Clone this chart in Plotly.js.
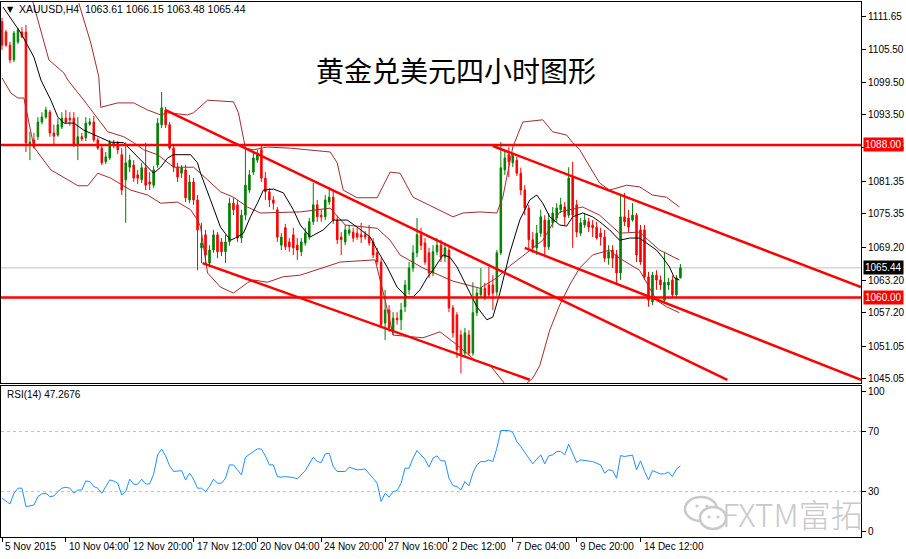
<!DOCTYPE html>
<html>
<head>
<meta charset="utf-8">
<script src="https://cdn.plot.ly/plotly-3.0.1.min.js"></script>
<style>html,body{margin:0;padding:0;background:#fff;}#chart{width:906px;height:559px;}</style>
</head>
<body>
<div id="chart"></div>
<script>
// ---- Candles (XAUUSD H4), one per bar ----
const open = [
1110.6,1108.7,1106.3,1103.6,1106.9,1108.7,1108.7,1088.2,1088.9,1089.5,
1092.2,1093.1,1094.0,1090.2,1089.8,1091.3,1092.9,1092.9,1092.9,1088.0,
1089.5,1089.3,1091.8,1092.2,1088.9,1087.4,1084.9,1085.6,1088.4,1088.4,
1086.2,1081.6,1083.9,1084.3,1082.5,1081.6,1083.8,1081.2,1080.6,1084.3,
1091.7,1094.4,1091.7,1087.4,1083.9,1082.8,1083.4,1077.9,1081.2,1077.9,
1069.1,1071.5,1066.3,1068.7,1071.5,1070.2,1068.4,1070.2,1077.3,1077.0,
1070.9,1075.1,1079.7,1083.0,1085.2,1087.1,1081.9,1079.4,1077.9,1076.1,
1069.6,1072.8,1070.2,1071.5,1069.6,1068.4,1070.0,1071.1,1073.9,1077.0,
1075.1,1074.8,1077.5,1078.4,1074.2,1071.1,1070.2,1071.8,1072.0,1071.8,
1071.5,1071.5,1071.1,1070.2,1068.2,1066.5,1055.3,1057.7,1054.0,1056.2,
1055.9,1058.3,1061.4,1065.4,1068.2,1071.5,1070.0,1068.2,1064.5,1068.4,
1069.6,1067.4,1068.7,1058.1,1056.8,1053.1,1049.8,1053.1,1049.8,1057.2,
1060.5,1061.7,1062.3,1062.3,1061.0,1068.2,1083.4,1086.2,1084.7,1085.2,
1082.8,1079.7,1076.4,1070.6,1069.1,1071.8,1074.2,1069.3,1073.7,1074.6,
1076.1,1076.6,1075.1,1082.1,1077.0,1071.8,1073.3,1073.9,1073.3,1072.9,
1071.8,1071.1,1067.2,1068.7,1067.8,1064.5,1074.8,1074.6,1074.2,1075.1,
1072.4,1072.4,1063.8,1059.2,1064.1,1063.2,1059.5,1062.3,1063.2,1060.5,
1063.61];
const high = [
1111.3,1109.1,1106.9,1108.9,1109.5,1109.6,1110.0,1090.4,1090.2,1093.1,
1094.0,1095.0,1094.4,1091.7,1092.9,1094.0,1094.4,1094.0,1094.0,1093.1,
1090.2,1093.1,1092.9,1093.3,1089.3,1088.0,1086.7,1088.9,1088.9,1088.7,
1087.4,1088.5,1086.2,1085.2,1083.4,1084.7,1088.4,1083.0,1084.1,1092.9,
1097.7,1095.0,1092.2,1088.0,1084.7,1084.3,1084.3,1082.5,1081.9,1078.8,
1073.7,1072.4,1069.6,1072.4,1072.0,1070.9,1071.5,1078.3,1078.3,1077.9,
1076.1,1087.6,1083.4,1086.7,1087.1,1087.8,1083.0,1080.1,1078.6,1076.6,
1071.8,1073.5,1070.9,1072.8,1070.9,1070.9,1072.8,1074.6,1081.0,1077.9,
1076.1,1078.8,1080.3,1079.7,1075.0,1072.0,1073.3,1073.3,1072.8,1072.8,
1073.7,1072.2,1073.3,1070.9,1069.1,1067.2,1061.4,1058.6,1057.3,1057.3,
1059.0,1063.2,1066.5,1069.6,1074.6,1072.8,1070.9,1069.1,1069.6,1070.9,
1070.6,1070.0,1069.6,1058.6,1057.3,1054.0,1054.4,1054.0,1062.8,1061.7,
1065.4,1062.7,1065.6,1064.1,1068.7,1088.5,1087.1,1087.6,1086.5,1085.8,
1083.8,1080.6,1077.0,1072.0,1073.3,1076.1,1075.1,1075.5,1076.6,1077.3,
1078.3,1077.5,1083.9,1084.9,1077.9,1074.6,1075.5,1074.6,1074.2,1073.9,
1072.8,1072.4,1069.6,1069.6,1068.7,1078.8,1079.2,1076.1,1077.3,1075.5,
1073.3,1073.3,1064.7,1064.7,1065.0,1064.0,1068.4,1063.6,1064.0,1064.1,
1066.15];
const low = [
1105.4,1106.0,1103.0,1103.2,1106.5,1107.6,1086.7,1085.2,1087.3,1088.9,
1091.8,1092.8,1089.5,1088.0,1089.5,1090.9,1091.8,1091.5,1087.6,1085.2,
1088.7,1088.7,1091.5,1088.5,1087.1,1084.3,1084.5,1085.2,1087.4,1086.3,
1078.8,1073.7,1083.0,1081.2,1080.8,1081.0,1079.7,1079.7,1080.1,1083.8,
1091.1,1091.1,1087.1,1083.0,1081.2,1081.9,1077.5,1077.3,1077.0,1065.0,
1066.3,1066.0,1065.6,1068.2,1067.2,1067.6,1066.3,1069.5,1075.1,1070.2,
1070.0,1074.2,1079.2,1082.5,1084.7,1081.2,1077.9,1076.6,1076.1,1070.2,
1068.7,1068.7,1068.4,1067.8,1066.9,1067.6,1069.5,1070.6,1073.3,1073.9,
1073.9,1074.2,1077.0,1073.5,1069.8,1067.8,1069.6,1071.3,1070.2,1070.6,
1070.0,1070.6,1069.5,1067.2,1066.0,1054.4,1052.2,1053.7,1053.1,1055.0,
1054.0,1057.3,1060.5,1064.7,1067.4,1068.7,1066.0,1063.6,1063.9,1067.8,
1066.5,1066.5,1057.3,1052.6,1048.9,1046.1,1049.1,1049.3,1049.3,1056.6,
1059.9,1059.5,1059.9,1057.7,1060.3,1067.8,1082.5,1082.1,1083.9,1082.3,
1078.8,1075.1,1068.7,1068.2,1067.8,1071.1,1067.8,1068.7,1072.8,1073.9,
1075.5,1073.3,1074.6,1069.1,1071.1,1071.3,1072.8,1072.0,1071.1,1070.6,
1069.5,1066.5,1066.0,1065.4,1062.3,1063.2,1073.1,1072.0,1073.9,1066.5,
1066.0,1063.2,1058.3,1058.6,1061.4,1061.4,1059.2,1061.4,1059.9,1059.9,
1063.48];
const close = [
1106.3,1106.3,1103.6,1108.5,1109.1,1107.8,1088.4,1088.5,1087.6,1092.2,
1093.1,1094.4,1090.2,1089.6,1091.7,1092.9,1092.2,1092.6,1088.0,1089.5,
1089.1,1092.0,1092.2,1088.9,1087.4,1084.7,1085.8,1088.5,1088.0,1087.1,
1079.7,1084.7,1085.2,1081.9,1081.9,1083.8,1080.6,1080.8,1083.4,1092.0,
1094.8,1091.7,1087.4,1083.9,1082.1,1083.8,1078.3,1081.2,1077.9,1072.4,
1070.0,1067.8,1068.7,1071.5,1068.4,1068.4,1070.2,1077.3,1076.1,1070.9,
1075.1,1080.6,1082.5,1085.6,1086.2,1081.9,1079.4,1077.9,1077.3,1071.1,
1071.1,1069.3,1069.3,1069.1,1068.7,1070.2,1071.8,1073.9,1077.0,1074.8,
1074.8,1077.9,1078.4,1074.2,1070.6,1070.6,1072.4,1072.4,1070.9,1071.1,
1071.1,1071.1,1070.0,1067.8,1066.5,1055.0,1057.7,1054.4,1056.2,1055.9,
1057.7,1062.3,1065.4,1068.2,1071.5,1069.6,1066.5,1064.5,1068.4,1069.6,
1067.4,1069.1,1058.1,1053.5,1050.4,1049.5,1053.5,1049.8,1057.2,1060.8,
1061.7,1060.1,1060.5,1060.8,1068.2,1083.8,1085.6,1084.9,1086.0,1082.8,
1079.7,1076.4,1070.6,1069.1,1071.8,1074.8,1069.3,1074.2,1075.5,1076.4,
1077.0,1074.8,1081.9,1075.1,1072.0,1073.7,1074.2,1072.9,1072.8,1070.9,
1071.1,1067.2,1068.4,1067.2,1064.5,1074.8,1073.9,1072.9,1075.1,1067.8,
1066.5,1063.8,1059.5,1064.1,1063.2,1062.3,1062.8,1062.8,1060.5,1063.6,
1065.44];

// ---- Moving average (black) ----
const maBar = [0.25,4.75,8,9.75,12.25,14,15.5,18,20.5,24,27.25,30.5,32.25,34,36.5,38,39.75,41.5,43,47.25,49,49.75,52.25,54.75,57.25,59,60.5,62.25,64,65.5,68,70.5,73,74.75,77.25,80.5,83,86.5,89,92.25,94,96.5,99,101.5,103,104.75,106.5,108,110.5,112.25,114,116.5,119,121.5,123,124.75,127.25,129.75,132.25,134,135.5,137.25,139.75,141.5,143,145.5,148,149.75,152.25,154.75,157.25,159.75,161.5,164,165.5,167.25,168.5,169.75];
const maVal = [1113.3,1108.5,1104.1,1099.9,1096.2,1093.1,1092.0,1092.0,1090.7,1089.5,1088.5,1088.4,1087.1,1085.8,1083.9,1082.8,1083.9,1085.6,1086.2,1086.2,1084.7,1082.8,1077.9,1072.9,1070.5,1071.1,1071.8,1074.8,1077.3,1079.7,1079.9,1079.2,1076.1,1073.3,1071.1,1072.4,1074.2,1074.2,1072.9,1071.1,1068.7,1065.6,1061.9,1060.1,1060.1,1061.4,1063.6,1065.0,1067.8,1067.4,1065.6,1061.9,1058.3,1055.9,1056.4,1060.8,1068.2,1074.2,1077.9,1078.8,1077.3,1074.8,1073.3,1073.1,1074.8,1075.5,1074.8,1073.9,1072.4,1070.5,1070.9,1070.9,1070.0,1068.7,1067.4,1065.6,1063.6,1063.2];

// ---- Bollinger bands (dark red) ----
const ubBar = [19.25,22.25,24.25,24.75,29,33,36.5,39.75,41.5,46.5,48,51.5,58,59.25,61,63,66.5,72.25,82.25,84,85.5,89,94,97.25,99.75,103,108,113,115.5,119.75,124,125.5,128,130.5,135.5,138,141.5,143,144.75,147.25,149.75,152.25,156.5,159.75,163,166.5,169.75];
const ubVal = [1114.0,1106.7,1100.5,1094.9,1095.7,1095.7,1094.4,1093.5,1093.9,1093.5,1093.9,1096.2,1095.9,1093.9,1087.4,1087.1,1087.6,1087.4,1086.7,1084.7,1079.7,1078.3,1078.3,1083.0,1082.8,1078.4,1076.6,1074.8,1075.5,1075.7,1075.5,1078.4,1087.6,1092.2,1092.6,1090.4,1089.8,1088.4,1087.1,1084.0,1081.0,1079.7,1080.6,1080.3,1078.8,1078.4,1076.6];
const mbBar = [7.75,10.5,11.75,15.5,16.5,20.5,24,26.5,30.5,33,35.5,39,43,48,51.5,54.75,58,61.5,64.75,74.75,82.25,86,94,97.25,99.75,105.5,113,119.75,124,127.25,130.5,135.5,139.75,145.5,149.75,154.75,159.75,164.75,169.75];
const mbVal = [1114.2,1106.7,1103.6,1101.2,1099.9,1096.2,1092.9,1090.4,1089.5,1088.4,1087.1,1086.2,1083.9,1083.9,1081.6,1079.4,1078.4,1076.6,1075.5,1075.7,1076.4,1073.3,1072.7,1070.5,1067.8,1065.4,1063.0,1061.7,1063.6,1065.8,1067.6,1070.5,1075.7,1076.6,1075.1,1071.8,1072.0,1068.7,1066.9];
const lbBar = [0,2.25,4,5.5,8,12.25,16.5,19,21.5,24,27.25,32.25,36.5,39.75,44,47.25,49,49.75,51.5,54.75,58,61.5,63,66.5,70.5,74.75,84.75,93.5,96,98,105.5,109.75,114,118.5,122.25,124.75,127.25,131,133,134.75,137.25,139.75,142.25,144.75,148,152.25,154.75,159.75,162.25,164,166.5,169.75];
const lbVal = [1100.3,1097.5,1096.6,1096.6,1087.6,1083.4,1081.6,1080.5,1080.5,1082.8,1081.9,1079.7,1078.8,1077.3,1077.5,1076.1,1074.2,1073.0,1064.5,1061.9,1060.8,1062.7,1063.2,1062.8,1063.8,1064.1,1066.5,1066.9,1059.5,1053.1,1052.6,1053.7,1051.3,1048.5,1047.6,1045.2,1043.0,1043.9,1045.2,1047.5,1054.0,1058.6,1062.3,1065.4,1067.8,1068.7,1067.2,1065.0,1061.9,1059.5,1058.3,1057.2];

// ---- Drawn trend lines (start bar, start price, end bar, end price) ----
const trendX0 = [41, 123, 131, 50.25];
const trendY0 = [1094.4, 1087.8, 1069.1, 1066.3];
const trendX1 = [181.75, 215.25, 215.25, 132.25];
const trendY1 = [1044.9, 1061.9, 1044.9, 1044.9];
const hLevels = [1088.00, 1060.00];
const lastPrice = 1065.44;

// ---- RSI(14) ----
const rsiBar = [0,2,3,4,5,6,8,9,10,11,12,13,14,15,16,17,18,19,20,21,22,23,24,25,26,27,28,29,30,31,32,33,34,35,36,37,38,39,40,41,42,43,45,46,47,48,49,50,51,52,53,54,55,56,57,58,59,60,61,63,64,65,66,67,68,69,70,71,73,74,75,76,78,79,80,81,82,83,84,86,87,88,89,91,92,93,94,95,96,97,98,99,100,101,102,103,104,105,106,107,108,109,110,111,112,113,114,115,116,117,118,119,120,121,122,123,124,125,127,128,129,130,132,133,134,135,136,137,138,139,140,141,142,143,144,145,146,148,150,151,152,153,154,155,156,157,158,159,160,161,162,163,164,165,166,167,168,169,170];
const rsiVal = [25.6,21.8,28.9,32.3,32.3,20.0,21.1,26.7,28.5,28.9,26.7,27.1,30.0,32.3,32.9,32.3,28.9,31.1,31.1,37.1,36.7,33.4,32.3,28.9,33.4,37.8,37.1,35.6,27.8,30.0,38.3,34.9,34.9,38.3,35.1,35.1,41.6,54.5,58.3,53.8,47.1,43.4,44.0,37.8,42.3,38.3,32.3,32.3,30.0,33.4,38.3,35.6,35.6,38.9,47.8,47.8,44.5,41.1,52.9,56.7,58.5,58.3,53.8,47.8,47.8,40.0,39.6,40.0,39.4,38.5,41.1,44.0,52.9,50.0,49.4,55.1,55.6,46.7,43.4,43.4,46.3,45.6,44.5,45.0,42.3,38.9,35.6,23.4,28.9,26.3,30.0,30.7,35.6,45.6,45.6,52.3,57.4,54.5,51.6,46.3,52.3,53.8,50.5,50.5,38.9,34.0,33.4,31.1,36.7,33.8,42.3,47.8,50.0,50.0,51.1,50.0,58.9,70.7,70.7,69.4,63.4,60.0,52.2,48.5,51.6,54.5,48.5,53.8,54.5,56.7,56.7,54.5,61.6,55.6,49.4,51.1,50.7,50.0,47.8,42.3,44.5,44.0,38.9,54.0,53.4,53.8,54.3,44.5,50.5,43.4,37.8,44.0,42.7,41.8,41.8,43.1,40.0,44.9,47.27];
const rsiLevels = [70, 30];

// ---- Axis ticks / labels ----
const yTickVals = [1111.65,1105.50,1099.50,1093.50,1087.45,1081.35,1075.35,1069.20,1063.20,1057.20,1051.05,1045.05];
const rsiTickVals = [96.5, 70, 30, 3.5];
const rsiTickText = ['100', '70', '30', '0'];
const xTickBars = [0,16,32,48,64,80,96,112,128,144,160];
const xTickLabels = ['5 Nov 2015','10 Nov 04:00','12 Nov 20:00','17 Nov 12:00','20 Nov 04:00','24 Nov 20:00','27 Nov 16:00','2 Dec 12:00','7 Dec 04:00','9 Dec 20:00','14 Dec 12:00'];

const barIndex = open.map((_, i) => i);
const FONT = 'Liberation Sans, Arial, sans-serif';
const BB_COLOR = '#a52a2a';
const XR = [-0.25, 215.25];

const traces = [];
[[ubBar, ubVal], [mbBar, mbVal], [lbBar, lbVal]].forEach(([bx, by]) => {
  traces.push({type:'scatter', mode:'lines', x:bx, y:by, xaxis:'x', yaxis:'y',
    line:{color:BB_COLOR, width:1}, hoverinfo:'skip'});
});
traces.push({type:'scatter', mode:'lines', x:maBar, y:maVal, xaxis:'x', yaxis:'y',
  line:{color:'#000000', width:1}, hoverinfo:'skip'});
traces.push({type:'candlestick', x:barIndex, open:open, high:high, low:low, close:close,
  xaxis:'x', yaxis:'y', whiskerwidth:0,
  increasing:{line:{color:'#008000', width:1}, fillcolor:'#008000'},
  decreasing:{line:{color:'#ff0000', width:1}, fillcolor:'#ff0000'},
  hoverinfo:'skip'});
trendX0.forEach((x0, k) => {
  traces.push({type:'scatter', mode:'lines', x:[x0, trendX1[k]], y:[trendY0[k], trendY1[k]],
    xaxis:'x', yaxis:'y', line:{color:'#ff0000', width:2.5}, hoverinfo:'skip'});
});
traces.push({type:'scatter', mode:'lines', x:rsiBar, y:rsiVal, xaxis:'x2', yaxis:'y2',
  line:{color:'#1e90ff', width:1}, hoverinfo:'skip'});

// plot-area pixel helpers for decorations (plot area: x 1..861, y 2..537)
const px = v => (v - 1) / 860;
const py = v => (537 - v) / 535;

const shapes = [];
shapes.push({type:'line', xref:'paper', yref:'y', x0:0, x1:1, y0:lastPrice, y1:lastPrice,
  line:{color:'#c0c0c0', width:1}, layer:'below'});
hLevels.forEach(v => shapes.push({type:'line', xref:'paper', yref:'y', x0:0, x1:1, y0:v, y1:v,
  line:{color:'#ff0000', width:2.5}}));
rsiLevels.forEach(v => shapes.push({type:'line', xref:'paper', yref:'y2', x0:0, x1:1, y0:v, y1:v,
  line:{color:'#c0c0c0', width:1, dash:'3px,3px'}, layer:'below'}));
// watermark logo (two speech bubbles)
const WM = '#c9c9c9';
const WX = -12;
shapes.push({type:'circle', xref:'paper', yref:'paper', x0:px(697+WX), x1:px(729+WX), y0:py(521), y1:py(497),
  line:{color:WM, width:2.5}, fillcolor:'rgba(0,0,0,0)'});
shapes.push({type:'circle', xref:'paper', yref:'paper', x0:px(712+WX), x1:px(738+WX), y0:py(529), y1:py(507),
  line:{color:WM, width:2.5}, fillcolor:'#ffffff'});
[[709,506],[719,506],[721,517],[730,517]].forEach(([a,b]) => shapes.push({type:'circle', xref:'paper', yref:'paper',
  x0:px(a+WX-1.6), x1:px(a+WX+1.6), y0:py(b+1.6), y1:py(b-1.6), line:{width:0}, fillcolor:WM}));

const annotations = [];
annotations.push({xref:'paper', yref:'paper', x:px(5), y:py(10), xanchor:'left', yanchor:'middle',
  text:'▼', showarrow:false, font:{family:'DejaVu Sans', size:8, color:'#000'}});
annotations.push({xref:'paper', yref:'paper', x:px(17), y:py(9), xanchor:'left', yanchor:'middle',
  text:'XAUUSD,H4\u00a0 1063.61 1066.15 1063.48 1065.44', showarrow:false,
  font:{family:FONT, size:10.5, color:'#000'}});
annotations.push({xref:'paper', yref:'paper', x:px(5), y:py(395), xanchor:'left', yanchor:'middle',
  text:'RSI(14) 47.2676', showarrow:false, font:{family:FONT, size:10, color:'#000'}});
[[1088.00,'#ff0000'],[lastPrice,'#000000'],[1060.00,'#ff0000']].forEach(([v,c]) => {
  annotations.push({xref:'paper', yref:'y', x:px(863), y:v, xanchor:'left', yanchor:'middle',
    text:v.toFixed(2), showarrow:false, bgcolor:c, borderpad:1,
    font:{family:FONT, size:10, color:'#ffffff'}});
});
xTickBars.forEach((b, k) => {
  annotations.push({xref:'x2', yref:'paper', x:b, y:py(546), xanchor:'left', yanchor:'middle', xshift:1,
    text:xTickLabels[k], showarrow:false, font:{family:FONT, size:10, color:'#000'}});
});
annotations.push({xref:'paper', yref:'paper', x:px(877+WX), y:py(513), xanchor:'right', yanchor:'middle',
  text:'FXTM富拓', showarrow:false, font:{family:'Noto Sans CJK SC, sans-serif', size:32, color:WM, weight:300}});

const layout = {
  width:906, height:559,
  margin:{l:1, r:45, t:2, b:22, pad:0},
  paper_bgcolor:'#ffffff', plot_bgcolor:'#ffffff',
  showlegend:false,
  boxgap:0.45,
  title:{text:'黄金兑美元四小时图形', xref:'container', yref:'container', x:456/906, y:1-72/559,
    xanchor:'center', yanchor:'middle', font:{family:'Noto Sans CJK SC, sans-serif', size:28, color:'#000'}},
  xaxis:{domain:[0,1], range:XR, anchor:'y', showline:true, mirror:true, linecolor:'#000', linewidth:1,
    showgrid:false, zeroline:false, ticks:'', showticklabels:false, rangeslider:{visible:false}},
  yaxis:{domain:[0.2879,1], range:[1044.31,1114.22], anchor:'x', side:'right', showline:true, mirror:true,
    linecolor:'#000', linewidth:1, showgrid:false, zeroline:false, ticks:'outside', ticklen:4, tickcolor:'#000',
    tickvals:yTickVals, ticktext:yTickVals.map(v => v.toFixed(2)),
    tickfont:{family:FONT, size:10, color:'#000'}},
  xaxis2:{domain:[0,1], range:XR, anchor:'y2', showline:true, mirror:true, linecolor:'#000', linewidth:1,
    showgrid:false, zeroline:false, ticks:'outside', ticklen:4, tickcolor:'#000',
    tickvals:xTickBars, showticklabels:false},
  yaxis2:{domain:[0,0.2822], range:[-0.2,100.3], anchor:'x2', side:'right', showline:true, mirror:true,
    linecolor:'#000', linewidth:1, showgrid:false, zeroline:false, ticks:'outside', ticklen:4, tickcolor:'#000',
    tickvals:rsiTickVals, ticktext:rsiTickText, tickfont:{family:FONT, size:10, color:'#000'}},
  shapes:shapes,
  annotations:annotations
};

Plotly.newPlot('chart', traces, layout, {staticPlot:true, displayModeBar:false});
</script>
</body>
</html>
